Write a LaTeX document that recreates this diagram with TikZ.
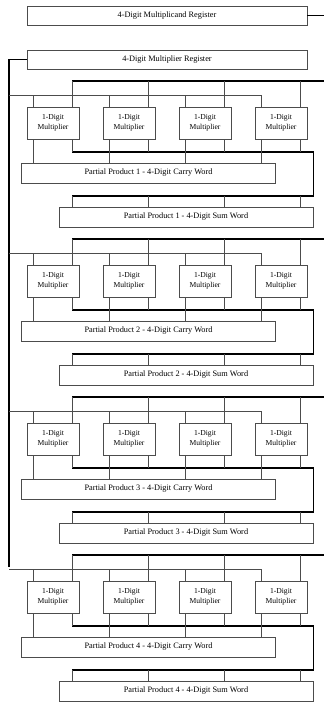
\documentclass[tikz,border=0pt]{standalone}
\usepackage{fontspec}
\setmainfont{Liberation Serif}
\usetikzlibrary{calc,positioning}

\tikzset{
  register/.style={draw=black!70,line width=0.8pt,minimum width=280pt,minimum height=19pt,
    inner sep=0pt,font=\fontsize{8.3}{10}\selectfont},
  mulbox/.style={draw=black!70,line width=0.8pt,minimum width=52pt,minimum height=32pt,
    inner sep=0pt,align=center,font=\fontsize{7.6}{10.5}\selectfont},
  wordbox/.style={draw=black!70,line width=0.8pt,minimum width=254pt,minimum height=20pt,
    inner sep=0pt,font=\fontsize{8.3}{10}\selectfont},
  wire/.style={black!70,line width=0.7pt},
  bus/.style={black,line width=1.7pt,line join=miter},
}

\begin{document}
\begin{tikzpicture}[x=1pt,y=-1pt]
       \useasboundingbox (0,0) rectangle (324,702);
       \node[register] (mcand) at (167,15.5) {4-Digit Multiplicand Register};
       \node[register] (mplier) at (167,59.5) {4-Digit Multiplier Register};
       \coordinate (mcandend) at (324,15.5);
       \coordinate (spine) at (9,567);
       \draw[bus] (mcand.east) -- (mcandend);
       \draw[bus] (mplier.west) -| (spine);
       % one block per partial product
       \foreach \b in {1,...,4} {
         \pgfmathsetmacro{\blocktop}{107+158*(\b-1)}
         \coordinate (cbus\b) at (72,\blocktop-26);
         \coordinate (cbusend\b) at (324,\blocktop-26);
         \coordinate (pbus\b) at (9,\blocktop-12);
         \coordinate (pbusend\b) at (262,\blocktop-12);
         \draw[bus] (cbus\b) -- (cbusend\b);
         \draw[wire] (pbus\b) -- (pbusend\b);
         \node[wordbox] (carry\b) at (148.5,\blocktop+66) {Partial Product \b{} - 4-Digit Carry Word};
         \node[wordbox] (sum\b) at (186,\blocktop+110) {Partial Product \b{} - 4-Digit Sum Word};
         \coordinate (outa\b) at (72,\blocktop+45);
         \coordinate (outb\b) at (72,\blocktop+89);
         \coordinate (turn\b) at (sum\b.east |- outb\b);
         \draw[bus] (outa\b) -| (turn\b) -- (outb\b);
         \foreach \i in {1,...,4} {
           \pgfmathsetmacro{\mulx}{53+76*(\i-1)}
           \node[mulbox] (mul\b\i) at (\mulx,\blocktop+16) {1-Digit\\Multiplier};
           \coordinate (pin\b\i) at ([xshift=7pt]mul\b\i.north west);
           \coordinate (cin\b\i) at ([xshift=-7pt]mul\b\i.north east);
           \coordinate (cout\b\i) at ([xshift=7pt]mul\b\i.south west);
           \coordinate (sout\b\i) at ([xshift=-7pt]mul\b\i.south east);
           \draw[wire] (pin\b\i) -- (pin\b\i |- pbus\b);
           \draw[wire] (cin\b\i) -- (cin\b\i |- cbus\b);
           \draw[wire] (cout\b\i) -- (cout\b\i |- carry\b.north);
           \draw[wire] (sout\b\i) -- (sout\b\i |- outa\b);
           \draw[wire] (sout\b\i |- outb\b) -- (sout\b\i |- sum\b.north);
         }
       }
     \end{tikzpicture}
\end{document}
